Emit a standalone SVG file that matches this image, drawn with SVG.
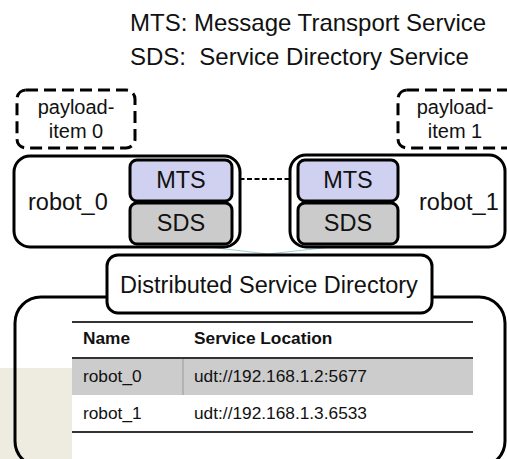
<svg xmlns="http://www.w3.org/2000/svg" width="507" height="459" viewBox="0 0 507 459">
  <style>
    text { font-family: "Liberation Sans", Arial, sans-serif; fill: #111; }
    .legend { font-size: 24px; white-space: pre; }
    .big { font-size: 23.5px; }
    .svc { font-size: 23.5px; text-anchor: middle; }
    .pl { font-size: 20px; text-anchor: middle; }
    .cell { font-size: 17.3px; }
    .head { font-size: 17.3px; font-weight: bold; }
    .frame { fill: #fff; stroke: #000; stroke-width: 3; }
    .dash { fill: none; stroke: #000; stroke-width: 3; stroke-dasharray: 12 6; }
    .mts { fill: #d0d0f0; stroke: #000; stroke-width: 3; }
    .sds { fill: #cbcbcb; stroke: #000; stroke-width: 3; }
    .rule { stroke: #333; stroke-width: 2; }
  </style>

  <!-- tan backdrop strip at lower left -->
  <rect x="0" y="368" width="72" height="91" fill="#eeece1"/>

  <!-- legend -->
  <g id="legend">
    <text class="legend" x="130" y="31">MTS: Message Transport Service</text>
    <text class="legend" x="130" y="65" xml:space="preserve">SDS:  Service Directory Service</text>
  </g>

  <!-- links between the robots and the shared directory -->
  <g id="connectors">
    <line x1="232" y1="179" x2="298" y2="179" stroke="#000" stroke-width="2" stroke-dasharray="5 2.5"/>
    <polyline points="200,246 268,254 350,245" fill="none" stroke="#9fd0d0" stroke-width="1"/>
  </g>

  <!-- payload items -->
  <g id="payload0">
    <rect class="dash" x="17" y="90" width="118" height="58" rx="9"/>
    <text class="pl" x="76" y="114">payload-</text>
    <text class="pl" x="76" y="138">item 0</text>
  </g>
  <g id="payload1">
    <rect class="dash" x="398" y="90" width="118" height="58" rx="9"/>
    <text class="pl" x="455" y="114">payload-</text>
    <text class="pl" x="455" y="138">item 1</text>
  </g>

  <!-- robot 0 -->
  <g id="robot0">
    <rect class="frame" x="14" y="156" width="226" height="91" rx="16"/>
    <text class="big" x="28" y="210">robot_0</text>
    <g id="mts0">
      <rect class="mts" x="130" y="160" width="102" height="41" rx="7"/>
      <text class="svc" x="181" y="188">MTS</text>
    </g>
    <g id="sds0">
      <rect class="sds" x="130" y="203" width="102" height="41" rx="7"/>
      <text class="svc" x="181" y="231">SDS</text>
    </g>
  </g>

  <!-- robot 1 -->
  <g id="robot1">
    <rect class="frame" x="290" y="155" width="215" height="92" rx="16"/>
    <text class="big" x="419" y="210">robot_1</text>
    <g id="mts1">
      <rect class="mts" x="298" y="160" width="100" height="41" rx="7"/>
      <text class="svc" x="348" y="188">MTS</text>
    </g>
    <g id="sds1">
      <rect class="sds" x="298" y="203" width="100" height="41" rx="7"/>
      <text class="svc" x="348" y="231">SDS</text>
    </g>
  </g>

  <!-- distributed service directory -->
  <g id="directory">
    <rect x="15" y="297" width="490" height="170" rx="26" fill="none" stroke="#000" stroke-width="3"/>
    <g id="directory-label">
      <rect class="frame" x="107" y="255" width="325" height="58" rx="11"/>
      <text class="big" x="269" y="293" text-anchor="middle">Distributed Service Directory</text>
    </g>
    <g id="directory-table">
      <rect x="72" y="358" width="401" height="37" fill="#cccccc"/>
      <line x1="183" y1="358" x2="183" y2="395" stroke="#999" stroke-width="1"/>
      <line class="rule" x1="72" y1="322" x2="473" y2="322"/>
      <line class="rule" x1="72" y1="358" x2="473" y2="358"/>
      <line class="rule" x1="72" y1="432" x2="473" y2="432"/>
      <text class="head" x="83" y="344">Name</text>
      <text class="head" x="194" y="344">Service Location</text>
      <text class="cell" x="83" y="382">robot_0</text>
      <text class="cell" x="194" y="382">udt://192.168.1.2:5677</text>
      <text class="cell" x="83" y="419">robot_1</text>
      <text class="cell" x="194" y="419">udt://192.168.1.3.6533</text>
    </g>
  </g>
</svg>
